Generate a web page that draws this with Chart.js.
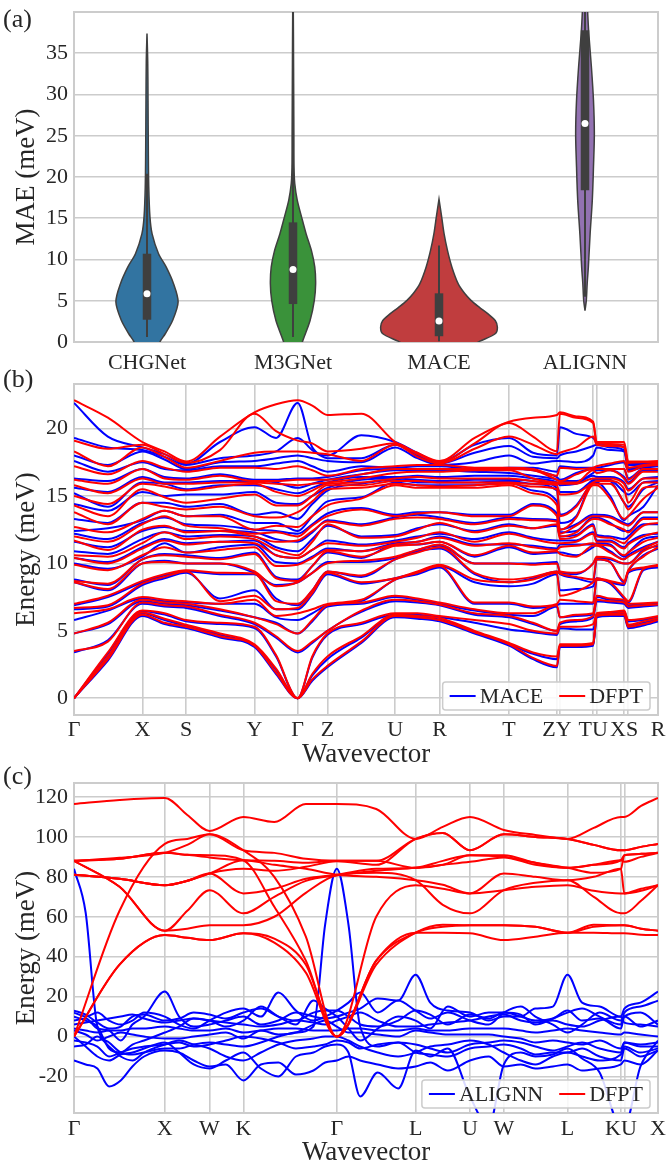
<!DOCTYPE html>
<html>
<head>
<meta charset="utf-8">
<title>MAE and phonon bands</title>
<script src="https://cdn.jsdelivr.net/npm/chart.js@4.4.1/dist/chart.umd.min.js"></script>
<style>
  html, body { margin: 0; padding: 0; background: #fff; }
  body { position: relative; width: 668px; height: 1164px; overflow: hidden; }
  canvas { position: absolute; left: 0; }
</style>
</head>
<body>
<canvas id="violins" width="668" height="385" style="top:0"></canvas>
<canvas id="maceBands" width="668" height="407" style="top:364px"></canvas>
<canvas id="alignnBands" width="668" height="407" style="top:762px"></canvas>
<script>
// ---------- (a) MAE distribution per model ----------
const models = ['CHGNet', 'M3GNet', 'MACE', 'ALIGNN'];
const violinColors = ['#3274a1', '#3a923a', '#c03d3e', '#9372b2'];

// outline: MAE level (meV) and half width (fraction of one category)
const chgnetLevels = [-0.5, 0, 1, 2.6, 4.85, 7.1, 9.1, 10.7, 13.1, 15.2, 18.8, 23.2, 29.3, 34, 37.4];
const chgnetWidths = [0.085, 0.088, 0.125, 0.175, 0.213, 0.181, 0.131, 0.079, 0.035, 0.02, 0.012, 0.009, 0.007, 0.005, 0];
const m3gnetLevels = [-0.5, 0, 2.6, 5.05, 7.07, 9.1, 11.1, 13.1, 15.2, 17.2, 19.2, 21.2, 25.3, 29.3, 33.3, 40, 41];
const m3gnetWidths = [0.06, 0.064, 0.117, 0.146, 0.155, 0.149, 0.126, 0.09, 0.058, 0.029, 0.012, 0.007, 0.006, 0.005, 0.004, 0.002, 0];
const maceLevels = [-0.5, 0.1, 1.0, 1.8, 2.6, 3.4, 4.2, 5.05, 5.9, 7.07, 9.1, 11.1, 13.1, 15.2, 17.3];
const maceWidths = [0.22, 0.28, 0.385, 0.4, 0.385, 0.336, 0.277, 0.219, 0.175, 0.131, 0.088, 0.058, 0.035, 0.018, 0];
const alignnLevels = [3.8, 5.05, 7.1, 9.1, 13.1, 17.2, 21.2, 25.3, 29.3, 33.3, 37.4, 40, 41];
const alignnWidths = [0, 0.009, 0.015, 0.023, 0.035, 0.05, 0.058, 0.064, 0.058, 0.044, 0.026, 0.018, 0.015];

// inner box: q1, median, q3, whisker low, whisker high
const chgnetBox = [2.7, 5.86, 10.7, 0.6, 20.4];
const m3gnetBox = [4.6, 8.8, 14.5, 0.6, 41];
const maceBox = [0.7, 2.55, 5.9, 0.1, 11.7];
const alignnBox = [18.4, 26.5, 37.8, 5.5, 41];

const maeTicks = [0, 5, 10, 15, 20, 25, 30, 35];

// ---------- (b) MACE vs DFPT, energies (meV) sorted per k-point ----------
const kPathB = [0, 0.058, 0.117, 0.155, 0.192, 0.25, 0.309, 0.346, 0.383, 0.408, 0.434, 0.492, 0.55, 0.588,
  0.626, 0.686, 0.745, 0.786, 0.827, 0.832, 0.86, 0.889, 0.895, 0.918, 0.942, 0.949, 0.975, 1];
const kTicksB = [0, 0.117, 0.192, 0.309, 0.383, 0.434, 0.55, 0.626, 0.745, 0.827, 0.832, 0.889, 0.895, 0.942, 0.949, 1];
const kLabelsB = ['Γ', 'X', 'S', 'Y', 'Γ', 'Z', 'U', 'R', 'T', 'ZY', '', 'TU', '', 'XS', '', 'R'];

const dfptG = [0, 0, 0, 3.5, 4.8, 6.3, 6.7, 7.0, 8.6, 8.7, 9.9, 10.4, 10.6, 11.7, 12.0, 12.7, 13.8, 14.3, 15.0, 15.8, 16.2, 17.2, 18.3, 19.1, 22.1];
const dfptGX = [2.9, 3.1, 3.4, 4.2, 5.6, 6.6, 6.9, 7.6, 8.1, 8.5, 9.5, 10.0, 10.5, 11.0, 11.6, 12.3, 12.9, 13.5, 14.4, 15.2, 15.9, 16.6, 17.2, 18.5, 20.8];
const dfptX = [6.2, 6.35, 6.5, 7.1, 7.3, 7.5, 8.5, 8.7, 10.0, 10.3, 10.6, 11.1, 11.5, 12.5, 12.9, 13.3, 14.5, 15.5, 15.9, 16.3, 17.0, 17.6, 18.6, 18.8, 19.0];
const dfptXS = [5.6, 5.9, 6.3, 6.9, 7.1, 7.3, 9.0, 9.2, 10.1, 10.6, 11.2, 11.7, 12.3, 12.8, 13.5, 13.9, 14.2, 14.9, 15.7, 15.9, 16.3, 17.1, 17.9, 18.1, 18.3];
const dfptS = [5.3, 5.45, 5.8, 6.8, 7.0, 7.2, 9.4, 9.5, 10.0, 10.5, 10.8, 11.4, 11.8, 12.3, 12.8, 13.5, 14.0, 14.5, 15.4, 15.9, 16.2, 16.8, 17.1, 17.45, 17.55];
const dfptSY = [4.6, 4.8, 5.6, 6.2, 6.6, 7.0, 7.2, 9.3, 10.0, 10.3, 11.0, 11.6, 12.0, 12.4, 12.6, 13.5, 14.2, 14.8, 15.7, 16.0, 16.5, 17.1, 17.6, 18.4, 19.4];
const dfptY = [3.9, 4.0, 5.3, 5.6, 6.0, 7.3, 7.6, 9.25, 9.4, 10.7, 11.2, 11.5, 11.8, 12.0, 12.2, 12.5, 13.5, 15.1, 15.9, 16.0, 16.1, 17.1, 18.2, 21.1, 21.2];
const dfptYG = [1.9, 2.2, 3.2, 4.6, 5.5, 6.1, 6.6, 7.2, 8.3, 8.9, 9.8, 10.6, 11.0, 11.6, 12.3, 12.8, 13.4, 14.3, 15.3, 15.9, 16.1, 17.0, 18.3, 19.8, 21.8];
const dfptGZ = [1.4, 1.8, 3.1, 4.2, 5.8, 6.6, 7.8, 8.0, 9.3, 9.8, 10.4, 11.0, 11.6, 12.4, 12.8, 13.5, 14.6, 15.0, 15.4, 15.9, 16.2, 16.9, 18.2, 18.9, 21.7];
const dfptZ = [2.4, 3.1, 4.8, 5.0, 6.9, 7.0, 9.3, 9.4, 10.0, 10.9, 11.0, 11.5, 12.9, 13.1, 13.5, 14.3, 15.5, 15.8, 15.9, 16.0, 16.2, 16.5, 18.1, 18.3, 21.0];
const dfptZU = [4.2, 4.6, 5.6, 6.5, 7.1, 7.3, 8.6, 9.1, 10.2, 10.5, 10.9, 11.3, 11.9, 12.8, 14.0, 14.8, 15.6, 15.8, 16.0, 16.3, 16.6, 17.0, 17.6, 18.5, 21.1];
const dfptU = [6.1, 6.2, 6.3, 7.3, 7.6, 8.8, 8.9, 10.3, 10.5, 11.3, 11.4, 11.6, 12.0, 13.3, 13.5, 15.8, 15.9, 16.1, 16.3, 16.7, 17.0, 17.2, 18.8, 18.9, 19.0];
const dfptUR = [6.0, 6.1, 6.3, 7.2, 7.4, 9.3, 9.4, 10.8, 11.0, 11.4, 11.6, 11.9, 12.5, 13.4, 13.7, 15.6, 15.8, 16.1, 16.4, 16.8, 17.0, 17.3, 17.9, 18.1, 18.2];
const dfptR = [5.8, 5.95, 6.1, 6.95, 7.1, 9.8, 9.9, 11.2, 11.4, 11.6, 11.9, 12.3, 13.0, 13.3, 13.8, 15.6, 15.7, 16.0, 16.3, 16.8, 17.0, 17.3, 17.4, 17.5, 17.6];
const dfptRT = [4.9, 5.0, 5.8, 6.3, 6.6, 7.1, 8.8, 9.3, 10.0, 10.6, 11.3, 11.6, 12.3, 12.9, 13.5, 15.6, 15.8, 16.0, 16.3, 16.9, 17.0, 17.1, 18.5, 18.9, 19.3];
const dfptT = [4.0, 4.1, 5.5, 6.1, 6.3, 7.1, 8.6, 8.8, 10.0, 11.3, 11.5, 12.2, 12.8, 13.3, 13.5, 15.8, 15.9, 16.0, 16.3, 16.9, 17.0, 17.1, 19.4, 20.4, 20.5];
const dfptTZ = [3.0, 3.4, 5.0, 5.6, 6.3, 6.8, 8.8, 9.0, 9.9, 10.8, 11.2, 11.8, 12.6, 13.2, 14.3, 15.2, 15.7, 15.9, 16.1, 16.3, 16.9, 17.0, 18.8, 19.4, 20.8];
const dfptYT = [3.9, 4.0, 5.3, 5.8, 6.2, 7.2, 7.9, 9.0, 9.3, 10.5, 11.3, 11.6, 12.0, 12.3, 12.8, 13.4, 14.2, 15.2, 15.9, 16.0, 16.6, 17.0, 18.6, 20.8, 20.9];
const dfptUX = [6.2, 6.25, 6.4, 7.2, 7.4, 8.6, 8.7, 10.1, 10.4, 10.8, 11.3, 11.6, 11.9, 12.9, 13.4, 14.8, 15.9, 16.1, 16.3, 16.9, 17.0, 17.4, 18.7, 18.85, 19.0];
const dfptSR = [5.5, 5.7, 5.9, 6.9, 7.05, 9.6, 9.7, 10.5, 10.9, 11.1, 11.6, 12.0, 12.8, 13.3, 13.8, 14.8, 15.6, 16.0, 16.3, 16.8, 17.0, 17.2, 17.3, 17.5, 17.55];

const maceG = [0, 0, 0, 3.4, 4.8, 5.8, 6.6, 6.9, 8.6, 8.8, 10.0, 10.4, 10.9, 11.6, 12.2, 12.4, 13.3, 14.4, 15.2, 15.6, 16.3, 17.6, 18.0, 19.3, 21.9];
const maceGX = [2.8, 3.0, 3.3, 4.3, 5.5, 6.5, 6.8, 7.5, 8.0, 8.4, 9.6, 10.1, 10.7, 11.2, 11.8, 12.6, 13.0, 13.9, 14.2, 15.3, 16.1, 16.8, 17.3, 18.6, 19.4];
const maceX = [6.1, 6.3, 6.45, 7.0, 7.2, 7.4, 8.4, 8.6, 10.0, 10.3, 10.5, 11.2, 11.8, 12.4, 13.0, 13.2, 14.5, 15.3, 16.0, 16.4, 17.0, 17.5, 18.3, 18.4, 18.6];
const maceXS = [5.5, 5.8, 6.2, 6.8, 7.0, 7.2, 8.9, 9.1, 10.2, 10.7, 11.5, 11.8, 12.3, 12.7, 13.4, 13.9, 14.5, 15.0, 15.9, 16.0, 16.4, 17.0, 17.7, 17.9, 18.1];
const maceS = [5.2, 5.35, 5.7, 6.7, 6.9, 7.1, 9.3, 9.4, 10.0, 10.6, 10.8, 11.5, 12.0, 12.4, 12.9, 13.5, 14.2, 15.1, 15.5, 16.0, 16.3, 16.9, 17.0, 17.3, 17.4];
const maceSY = [4.5, 4.7, 5.5, 6.1, 6.5, 7.0, 7.4, 9.2, 10.0, 10.4, 11.2, 11.6, 12.1, 12.4, 12.8, 13.6, 14.4, 15.1, 15.8, 16.1, 16.6, 17.2, 17.5, 17.8, 19.0];
const maceY = [3.8, 3.9, 5.2, 5.5, 6.0, 7.0, 8.0, 9.2, 9.3, 10.8, 11.4, 11.7, 12.0, 12.3, 12.5, 13.0, 13.6, 15.3, 15.8, 16.1, 16.2, 17.2, 17.6, 18.0, 20.1];
const maceYG = [1.8, 2.1, 3.1, 4.5, 5.6, 6.0, 6.6, 7.4, 8.4, 9.0, 10.1, 10.6, 11.2, 11.8, 12.4, 13.0, 13.8, 14.5, 15.5, 16.0, 16.2, 17.4, 17.8, 18.3, 19.3];
const maceGZ = [1.3, 1.7, 3.0, 4.1, 5.7, 6.3, 7.7, 8.0, 9.3, 9.8, 10.5, 11.0, 11.8, 12.3, 12.9, 13.5, 14.4, 15.0, 15.6, 15.9, 16.3, 17.2, 17.8, 18.4, 18.6];
const maceZ = [2.3, 2.9, 4.7, 5.0, 6.8, 6.9, 9.2, 9.4, 10.1, 10.8, 11.1, 11.7, 12.8, 13.2, 13.7, 14.6, 15.4, 15.6, 16.0, 16.2, 16.4, 16.8, 17.6, 17.8, 18.0];
const maceZU = [4.1, 4.5, 5.5, 6.4, 7.0, 7.2, 8.5, 9.0, 10.1, 10.4, 10.9, 11.4, 12.0, 12.9, 14.1, 14.9, 15.9, 16.2, 16.4, 16.6, 16.9, 17.2, 17.5, 17.8, 19.5];
const maceU = [6.0, 6.1, 6.2, 7.2, 7.5, 8.8, 8.9, 10.3, 10.4, 11.4, 11.5, 11.7, 12.1, 13.4, 13.6, 16.0, 16.2, 16.3, 16.4, 16.9, 17.0, 17.1, 18.6, 18.8, 19.0];
const maceUR = [5.9, 6.0, 6.2, 7.1, 7.3, 9.2, 9.3, 10.9, 11.0, 11.4, 11.6, 12.0, 12.6, 13.6, 13.8, 15.8, 16.0, 16.2, 16.5, 16.9, 17.0, 17.2, 17.8, 18.0, 18.2];
const maceR = [5.7, 5.85, 6.0, 6.9, 7.0, 9.7, 9.8, 11.1, 11.3, 11.6, 12.0, 12.2, 12.9, 13.4, 13.8, 15.8, 16.0, 16.1, 16.4, 16.9, 17.0, 17.2, 17.3, 17.4, 17.5];
const maceRT = [4.8, 4.9, 5.6, 6.2, 6.5, 7.0, 8.6, 9.2, 10.0, 10.5, 11.4, 11.8, 12.4, 13.0, 13.6, 15.8, 16.0, 16.2, 16.5, 16.8, 16.9, 17.0, 17.5, 18.2, 18.8];
const maceT = [3.9, 4.0, 5.1, 6.0, 6.2, 7.0, 8.3, 8.6, 10.0, 11.2, 11.4, 12.3, 12.9, 13.4, 13.6, 16.0, 16.1, 16.2, 16.5, 16.7, 17.0, 17.1, 18.0, 18.7, 19.3];
const maceTZ = [2.9, 3.3, 4.9, 5.5, 6.1, 6.7, 8.5, 8.9, 10.0, 10.7, 11.3, 11.9, 12.6, 13.3, 14.4, 15.4, 15.9, 16.1, 16.3, 16.5, 16.9, 17.1, 17.4, 17.9, 18.2];
const maceYT = [3.8, 3.9, 5.1, 5.7, 6.1, 7.0, 8.1, 8.9, 9.2, 10.6, 11.4, 11.7, 12.1, 12.4, 12.9, 13.5, 14.3, 15.3, 15.9, 16.1, 16.7, 17.1, 17.5, 18.3, 19.6];
const maceUX = [6.1, 6.2, 6.3, 7.1, 7.3, 8.5, 8.6, 10.1, 10.3, 10.9, 11.4, 11.7, 12.0, 13.0, 13.5, 15.0, 16.1, 16.2, 16.4, 16.9, 17.0, 17.3, 18.4, 18.6, 18.8];
const maceSR = [5.4, 5.6, 5.8, 6.8, 6.95, 9.5, 9.6, 10.6, 11.0, 11.2, 11.8, 12.1, 12.9, 13.4, 13.8, 14.2, 15.5, 16.0, 16.3, 16.9, 17.0, 17.1, 17.2, 17.3, 17.4];

// ---------- (c) ALIGNN vs DFPT ----------
const kTicksC = [0, 0.1555, 0.232, 0.29, 0.45, 0.585, 0.678, 0.736, 0.845, 0.9365, 0.9423, 1];
const kLabelsC = ['Γ', 'X', 'W', 'K', 'Γ', 'L', 'U', 'W', 'L', 'KU', '', 'X'];

const kPathDfptC = [0, 0.078, 0.1555, 0.194, 0.232, 0.29, 0.343, 0.397, 0.45, 0.5175, 0.585, 0.6315, 0.678,
  0.736, 0.79, 0.845, 0.89, 0.9365, 0.9423, 0.971, 1];
const dfptBandsC = [
  [0, 36, 50.8, 49.5, 48.3, 51.7, 47, 32, 0, 38, 52, 52, 51.7, 48.3, 50, 52, 52, 51.7, 51.7, 51, 50.8],
  [0, 36, 50.8, 49.5, 48.3, 51.7, 49, 36, 0, 38, 52, 55, 55.8, 55.8, 55, 52, 55, 55.8, 55.8, 54, 53],
  [0, 63, 96.5, 99, 101.3, 93.3, 80, 50, 0, 60, 75.8, 74, 71.7, 73.3, 75, 75.8, 73, 71.7, 71.7, 74, 75.8],
  [88, 75, 53, 54, 55.8, 55.8, 60, 72, 80.8, 82, 78.3, 66, 61.7, 73.3, 77, 78.3, 70, 61.7, 61.7, 68, 75.8],
  [88, 75, 53, 63, 73.3, 61.7, 70, 78, 80.8, 83, 84.5, 86, 87.5, 89.7, 86, 84.5, 86, 88.3, 87.5, 90, 92],
  [81, 79, 75.8, 78, 81.7, 71.7, 74, 79, 81, 84, 84.5, 88, 90.8, 90.8, 87, 84.5, 82, 84, 90.8, 91.5, 92],
  [81, 79, 75.8, 78, 81.7, 84, 83, 85, 87.8, 86, 99, 102, 93.3, 101.3, 100, 99, 96, 93.3, 93.3, 95, 96.5],
  [88, 89, 92, 91, 90.8, 88.3, 65, 38, 0, 36, 52, 56, 55.8, 55.8, 55, 52, 56, 55.8, 55.8, 54, 53],
  [88, 89, 92, 91, 89.7, 88.3, 88, 87, 88, 88, 99, 102, 93.3, 101.3, 100, 99, 96, 93.3, 93.3, 95, 96.5],
  [116.5, 118.5, 119.5, 111, 103, 110, 107.5, 116.5, 116.5, 114, 99, 105, 110, 103.5, 101, 99, 104.5, 110, 110, 115.5, 119.5],
  [81, 79, 75.8, 78, 81.7, 88.3, 86, 84, 81, 80, 78.3, 76, 71.7, 81.7, 80, 78.3, 80, 84, 71.7, 73, 75.8],
  [88, 89.5, 92, 96, 101.3, 93.3, 92, 89, 88, 88, 84.5, 86, 90.8, 90, 87, 84.5, 86, 88.3, 90.8, 91.5, 92]
];

const kPathAlignn = [0, 0.02, 0.04, 0.06, 0.08, 0.1, 0.12, 0.1555, 0.18, 0.205, 0.232, 0.26, 0.29, 0.32, 0.35,
  0.38, 0.41, 0.43, 0.45, 0.47, 0.49, 0.52, 0.555, 0.585, 0.61, 0.64, 0.678, 0.71, 0.736, 0.765, 0.79, 0.82,
  0.845, 0.87, 0.9, 0.9365, 0.9423, 0.97, 1];
const alignnBands = [
  [84, 62, 5, -3, -8, -9, -8, -6, -6, -4, -3, -4, -5, -3, 0, 2, 5, 56, 84, 56, 5, -5, -3, -8, -9, -10, -6, -5, -4, -6, -9, -8, -8, -6, -10, -12, -6, -10, -7],
  [13, 11, 7, 4, 5, 10, 11, 8, 9, 12, 11, 9, 12, 14, 10, 8, 12, 13, 13, 10, 6, 5, 8, 13, 11, 6, 11, 9, 12, 10, 8, 9, 13, 8, 9, 4, 10, 5, 8],
  [8, 9, 4, 3, -2, 6, 10, 22.5, 10, 5, 6, 8, 10, 6, 8, 12, 10, 9, 10, 12, 14, 19, 18, 31, 17, 13, 12, 8, 10, 10, 14, 15, 31, 17, 15, 10, 14, 17, 22.5],
  [4, 3, 2, 3, 3, 4, 4, 5, 4, 3, 3, 4, 2, 3, 4, 4, 3, 3, 3, 4, 4, 3, 3, 4, 3, 3, 4, 4, 4, 3, 2, 3, 4, 3, 2, 1, 2, 1, 0],
  [3, 1, -2, 0, 2, 1, 0, -1, -1, 0, 1, 2, -1, 3, 1, 2, 6, 8, 5, 2, 2, 1, 0, 3, 2, 1, 1, 1, 0, -1, -3, -2, -3, -4, -2, -6, -3, -5, -5],
  [-12, -14, -16, -25, -22, -15, -10, -7, -8, -12, -15, -14, -22, -14, -13, -19, -17, -13, -12, -10, -12, -14, -16, -15, -13, -17, -12, -10, -15, -14, -16, -15, -14, -17, -16, -14, -12, -14, -7],
  [10, 8, 5, -6, -8, -4, -2, 2, 5, 9, 8, 5, 8, 15, 10, 6, 18, 14, 10, 4, -2, 4, 10, 8, 4, 15, 10, 12, 12, 11, 6, 9, 12, 14, 10, 6, 12, 15, 18],
  [-2, -3, -5, -10, -8, -6, -5, -4, -3, -5, -4, -2, 0, -1, -3, -6, -5, -4, -2, -3, -6, -4, -3, -4, -6, -8, -4, -3, -2, -3, -5, -7, -5, -3, -6, -8, -3, -4, -3],
  [0, -5, -10, -12, -9, -8, -6, -3, -8, -14, -16, -12, -8, -16, -20, -10, -8, -5, -4, -8, -30, -18, -26, -7, -10, -6, -30, -45, -14, -8, -10, -9, -6, -11, -18, -45, -45, -15, -2],
  [6, 7, 8, 9, 10, 11, 9, 7, 8, 9, 8, 7, 6, 5, 6, 8, 7, 6, 8, 10, 12, 8, 5, 5, 6, 7, 8, 10, 11, 8, 7, 8, 6, 5, 8, 10, 7, 6, 5],
  [-5, -4, 0, -5, -10, -12, -8, -4, -2, -4, -6, -10, -12, -8, -4, -2, -1, 0, 0, -2, -5, -8, -10, -8, -5, -4, -2, -4, -8, -12, -14, -10, -8, -10, -12, -9, -5, -8, -6],
  [12, 10, 12, 8, 6, 8, 12, 10, 6, 4, 8, 12, 14, 10, 22, 13, 8, 10, 13, 17, 22, 12, 18, 13, 9, 12, 8, 6, 12, 15, 10, 6, 2, 6, 12, 8, 10, 12, 6]
];

// ---------- shared styling ----------
const SERIF = '"Liberation Serif", "Times New Roman", serif';
const INK = '#262626';
const GRID = '#cccccc';
Chart.defaults.font.family = SERIF;
Chart.defaults.color = INK;

const tickFont = { family: SERIF, size: 22 };
const titleFont = { family: SERIF, size: 27 };

const framePlugin = {
  id: 'frame',
  beforeDatasetsDraw(chart) {
    const { ctx, chartArea: a } = chart;
    ctx.save();
    ctx.strokeStyle = GRID;
    ctx.lineWidth = 2;
    ctx.strokeRect(a.left, a.top, a.right - a.left, a.bottom - a.top);
    ctx.restore();
  }
};

function panelLabel(text, y) {
  return {
    id: 'panelLabel',
    afterDraw(chart) {
      const ctx = chart.ctx;
      ctx.save();
      ctx.font = '26px ' + SERIF;
      ctx.fillStyle = INK;
      ctx.textBaseline = 'alphabetic';
      ctx.fillText(text, 3, y);
      ctx.restore();
    }
  };
}

function boxLegend(items) {
  return {
    id: 'boxLegend',
    afterDraw(chart) {
      const { ctx, chartArea } = chart;
      ctx.save();
      ctx.font = '22px ' + SERIF;
      const pad = 7, lineLen = 26, gap = 4, sep = 16, h = 28;
      let w = pad * 2;
      items.forEach((it, i) => { w += lineLen + gap + ctx.measureText(it.label).width + (i ? sep : 0); });
      const x0 = chartArea.right - 8 - w;
      const y0 = chartArea.bottom - 5 - h;
      ctx.fillStyle = 'rgba(255,255,255,0.85)';
      ctx.strokeStyle = GRID;
      ctx.lineWidth = 1.5;
      ctx.beginPath();
      ctx.roundRect(x0, y0, w, h, 3);
      ctx.fill();
      ctx.stroke();
      let x = x0 + pad;
      const midY = y0 + h / 2;
      items.forEach((it, i) => {
        if (i) x += sep;
        ctx.strokeStyle = it.color;
        ctx.lineWidth = 2;
        ctx.beginPath();
        ctx.moveTo(x, midY);
        ctx.lineTo(x + lineLen, midY);
        ctx.stroke();
        x += lineLen + gap;
        ctx.fillStyle = INK;
        ctx.textBaseline = 'middle';
        ctx.fillText(it.label, x, midY + 1);
        x += ctx.measureText(it.label).width;
      });
      ctx.restore();
    }
  };
}

function fixedTicks(values) {
  return axis => { axis.ticks = values.map(v => ({ value: v })); };
}

function yAxis(min, max, ticks, title) {
  return {
    type: 'linear', min, max,
    afterBuildTicks: fixedTicks(ticks),
    afterFit: s => { s.width = 74; s.paddingTop = 0; s.paddingBottom = 0; },
    ticks: { font: tickFont, color: INK, padding: 6 },
    grid: { color: GRID, lineWidth: 1.6, drawTicks: false },
    border: { display: false },
    title: { display: true, text: title, font: titleFont, color: INK, padding: { top: 11, bottom: 0 } }
  };
}

function kAxis(ticks, labels, pad) {
  return {
    type: 'linear', min: 0, max: 1,
    afterBuildTicks: fixedTicks(ticks),
    afterFit: s => { s.height = 56; s.paddingLeft = 0; s.paddingRight = 0; },
    ticks: { font: tickFont, color: INK, padding: pad, autoSkip: false, maxRotation: 0,
      callback: (v, i) => labels[i] },
    grid: { color: GRID, lineWidth: 1.6, drawTicks: false },
    border: { display: false },
    title: { display: true, text: 'Wavevector', font: titleFont, color: INK, padding: { top: 0, bottom: 0 } }
  };
}

function columnBands(cols, kpos, color, order) {
  const sets = [];
  for (let b = 0; b < cols[0].length; b++) {
    sets.push({
      data: kpos.map((x, i) => ({ x, y: cols[i][b] })),
      borderColor: color, borderWidth: 2, pointRadius: 0,
      cubicInterpolationMode: 'monotone', order
    });
  }
  return sets;
}

function rowBands(rows, kpos, color, order) {
  return rows.map(row => ({
    data: kpos.map((x, i) => ({ x, y: row[i] })),
    borderColor: color, borderWidth: 2, pointRadius: 0,
    cubicInterpolationMode: 'monotone', order
  }));
}

// ---------- (a) violins ----------
function violin(i, levels, widths, box) {
  const left = levels.map((y, k) => ({ x: i - widths[k], y }));
  const right = levels.map((y, k) => ({ x: i + widths[k], y })).reverse();
  return [
    { data: left.concat(right), borderColor: '#3f3f3f', borderWidth: 1.5, backgroundColor: violinColors[i],
      fill: 'shape', tension: 0.3, pointRadius: 0, order: 4 },
    { data: [{ x: i, y: box[3] }, { x: i, y: box[4] }], borderColor: '#3f3f3f', borderWidth: 2, pointRadius: 0, order: 3 },
    { data: [{ x: i, y: box[0] }, { x: i, y: box[2] }], borderColor: '#3f3f3f', borderWidth: 8.5,
      borderCapStyle: 'butt', pointRadius: 0, order: 2 },
    { data: [{ x: i, y: box[1] }], showLine: false, pointRadius: 3.5, pointBackgroundColor: '#ffffff',
      pointBorderWidth: 0, order: 1 }
  ];
}

const violinSets = [].concat(
  violin(0, chgnetLevels, chgnetWidths, chgnetBox),
  violin(1, m3gnetLevels, m3gnetWidths, m3gnetBox),
  violin(2, maceLevels, maceWidths, maceBox),
  violin(3, alignnLevels, alignnWidths, alignnBox)
);

new Chart(document.getElementById('violins'), {
  type: 'line',
  data: { datasets: violinSets },
  options: {
    responsive: false, animation: false, devicePixelRatio: 1,
    layout: { padding: { top: 12, right: 10, left: 0, bottom: 0 } },
    plugins: { legend: { display: false }, tooltip: { enabled: false } },
    scales: {
      x: {
        type: 'linear', min: -0.5, max: 3.5,
        afterBuildTicks: fixedTicks([0, 1, 2, 3]),
        afterFit: s => { s.height = 43; s.paddingLeft = 0; s.paddingRight = 0; },
        ticks: { font: tickFont, color: INK, padding: 0, autoSkip: false, maxRotation: 0,
          callback: (v, i) => models[i] },
        grid: { display: false },
        border: { display: false }
      },
      y: yAxis(0, 40, maeTicks, 'MAE (meV)')
    }
  },
  plugins: [framePlugin, panelLabel('(a)', 27)]
});

// ---------- (b) MACE bands ----------
const dfptColsB = [dfptG, dfptGX, dfptX, dfptXS, dfptS, dfptSY, dfptY, dfptYG, dfptG, dfptGZ, dfptZ, dfptZU, dfptU,
  dfptUR, dfptR, dfptRT, dfptT, dfptTZ, dfptZ, dfptY, dfptYT, dfptT, dfptU, dfptUX, dfptX, dfptS, dfptSR, dfptR];
const maceColsB = [maceG, maceGX, maceX, maceXS, maceS, maceSY, maceY, maceYG, maceG, maceGZ, maceZ, maceZU, maceU,
  maceUR, maceR, maceRT, maceT, maceTZ, maceZ, maceY, maceYT, maceT, maceU, maceUX, maceX, maceS, maceSR, maceR];

new Chart(document.getElementById('maceBands'), {
  type: 'line',
  data: {
    datasets: columnBands(dfptColsB, kPathB, '#ff0000', 0)
      .concat(columnBands(maceColsB, kPathB, '#0000ff', 1))
  },
  options: {
    responsive: false, animation: false, devicePixelRatio: 1,
    layout: { padding: { top: 20, right: 10, left: 0, bottom: 0 } },
    plugins: { legend: { display: false }, tooltip: { enabled: false } },
    scales: {
      x: kAxis(kTicksB, kLabelsB, 2),
      y: yAxis(-1.24, 23.3, [0, 5, 10, 15, 20], 'Energy (meV)')
    }
  },
  plugins: [framePlugin, panelLabel('(b)', 23),
    boxLegend([{ label: 'MACE', color: '#0000ff' }, { label: 'DFPT', color: '#ff0000' }])]
});

// ---------- (c) ALIGNN bands ----------
new Chart(document.getElementById('alignnBands'), {
  type: 'line',
  data: {
    datasets: rowBands(dfptBandsC, kPathDfptC, '#ff0000', 0)
      .concat(rowBands(alignnBands, kPathAlignn, '#0000ff', 1))
  },
  options: {
    responsive: false, animation: false, devicePixelRatio: 1,
    layout: { padding: { top: 21, right: 10, left: 0, bottom: 0 } },
    plugins: { legend: { display: false }, tooltip: { enabled: false } },
    scales: {
      x: kAxis(kTicksC, kLabelsC, 3),
      y: yAxis(-38.3, 127, [-20, 0, 20, 40, 60, 80, 100, 120], 'Energy (meV)')
    }
  },
  plugins: [framePlugin, panelLabel('(c)', 22),
    boxLegend([{ label: 'ALIGNN', color: '#0000ff' }, { label: 'DFPT', color: '#ff0000' }])]
});
</script>
</body>
</html>
